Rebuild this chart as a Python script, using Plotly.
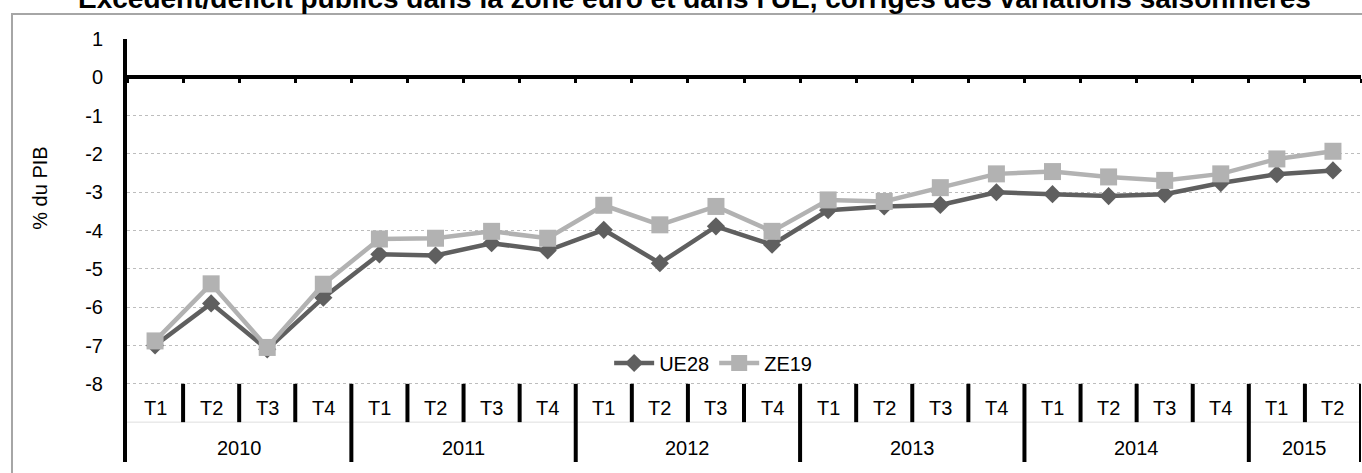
import plotly.graph_objects as go

years = ["2010", "2011", "2012", "2013", "2014", "2015"]
quarters_per_year = [4, 4, 4, 4, 4, 2]
quarter_labels = ["T1", "T2", "T3", "T4"]

ue28 = [-7.0, -5.9, -7.1, -5.75,
        -4.62, -4.65, -4.33, -4.52,
        -3.98, -4.85, -3.89, -4.37,
        -3.47, -3.37, -3.33, -3.0,
        -3.05, -3.1, -3.05, -2.76,
        -2.53, -2.43]
ze19 = [-6.88, -5.39, -7.05, -5.4,
        -4.22, -4.2, -4.02, -4.2,
        -3.34, -3.85, -3.37, -4.02,
        -3.2, -3.24, -2.88, -2.52,
        -2.46, -2.6, -2.69, -2.52,
        -2.13, -1.93]

title_text = "Excédent/déficit publics dans la zone euro et dans l'UE, corrigés des variations saisonnières"
y_title = "% du PIB"
y_ticks = [1, 0, -1, -2, -3, -4, -5, -6, -7, -8]
y_ticktext = ["1", "0", "-1", "-2", "-3", "-4", "-5", "-6", "-7", "-8"]

# build categories
cats, qlab, year_of = [], [], []
for y, n in zip(years, quarters_per_year):
    for q in quarter_labels[:n]:
        cats.append(f"{y} {q}")
        qlab.append(q)
        year_of.append(y)

FONT = "Liberation Sans, Arial, sans-serif"
YMIN, YMAX = -10.04, 1.0
ROW1 = -8.0   # bottom of gridded area
ROW2 = -9.0   # separator between quarter row and year row

fig = go.Figure()
fig.add_trace(go.Scatter(
    x=cats, y=ue28, name="UE28", mode="lines+markers",
    line=dict(color="#5f5f5f", width=4.5),
    marker=dict(symbol="diamond", size=14, color="#5f5f5f"),
))
fig.add_trace(go.Scatter(
    x=cats, y=ze19, name="ZE19", mode="lines+markers",
    line=dict(color="#b2b2b2", width=4.5),
    marker=dict(symbol="square", size=17, color="#b2b2b2"),
))

shapes = []
annotations = []
n = len(cats)
boundaries_year = []
idx = 0
for y, k in zip(years, quarters_per_year):
    boundaries_year.append((idx, idx + k))
    idx += k
year_edges = set()
for a, b in boundaries_year:
    year_edges.add(a)
    year_edges.add(b)
for i in range(1, n + 1):
    x = i - 0.5
    y0 = YMIN if i in year_edges else ROW2
    shapes.append(dict(type="line", xref="x", yref="y", x0=x, x1=x, y0=ROW1, y1=y0,
                       line=dict(color="black", width=4), layer="above"))
# faint row separator
shapes.append(dict(type="line", xref="paper", yref="y", x0=0, x1=1, y0=ROW2, y1=ROW2,
                   line=dict(color="#dedede", width=1), layer="below"))
# outer chart border
shapes.append(dict(type="rect", xref="paper", yref="paper", x0=-0.0932, x1=1.2, y0=-0.2, y1=1.059,
                   line=dict(color="#a6a6a6", width=2), layer="below"))

for c, q in zip(cats, qlab):
    annotations.append(dict(x=c, y=(ROW1 + ROW2) / 2 - 0.12, xref="x", yref="y", text=q,
                            showarrow=False, font=dict(family=FONT, size=20, color="black")))
for y, (a, b) in zip(years, boundaries_year):
    annotations.append(dict(x=(a + b - 1) / 2, y=(ROW2 + YMIN) / 2 - 0.15, xref="x", yref="y", text=y,
                            showarrow=False, font=dict(family=FONT, size=20, color="black")))
annotations.append(dict(x=-0.0705, y=0.646, xref="paper", yref="paper", text=y_title, textangle=-90,
                        xanchor="center", yanchor="middle",
                        showarrow=False, font=dict(family=FONT, size=20, color="black")))
annotations.append(dict(x=0.4595, y=1.055, xref="paper", yref="paper", text=f"<b>{title_text}</b>",
                        showarrow=False, yanchor="bottom", xanchor="center",
                        font=dict(family=FONT, size=28, color="black")))

zero_pos = (0 - YMIN) / (YMAX - YMIN)

fig.update_layout(
    width=1362, height=473,
    margin=dict(l=127, r=1, t=39, b=11),
    paper_bgcolor="white", plot_bgcolor="white",
    font=dict(family=FONT, size=20, color="black"),
    showlegend=True,
    legend=dict(orientation="h", x=0.475, y=0.234, xanchor="center", yanchor="middle",
                bgcolor="rgba(0,0,0,0)", font=dict(size=20), itemwidth=40),
    xaxis=dict(type="category", range=[-0.5, n - 0.5], showgrid=False, zeroline=False,
               anchor="free", position=zero_pos, showline=True, linecolor="black", linewidth=4,
               ticks="outside", tickson="boundaries", ticklen=4, tickwidth=3, tickcolor="black",
               showticklabels=False, fixedrange=True),
    yaxis=dict(range=[YMIN, YMAX], tickvals=y_ticks, ticktext=y_ticktext, showgrid=True,
               gridcolor="#bdbdbd", griddash="dot", gridwidth=1, zeroline=False, showline=True,
               linecolor="black", linewidth=4, ticks="", ticklabelstandoff=16,
               tickfont=dict(size=20)),
    shapes=shapes, annotations=annotations,
)

fig.write_html("out.html", config={"displayModeBar": False},
               post_script="document.body.style.margin='0';document.body.style.padding='0';")
